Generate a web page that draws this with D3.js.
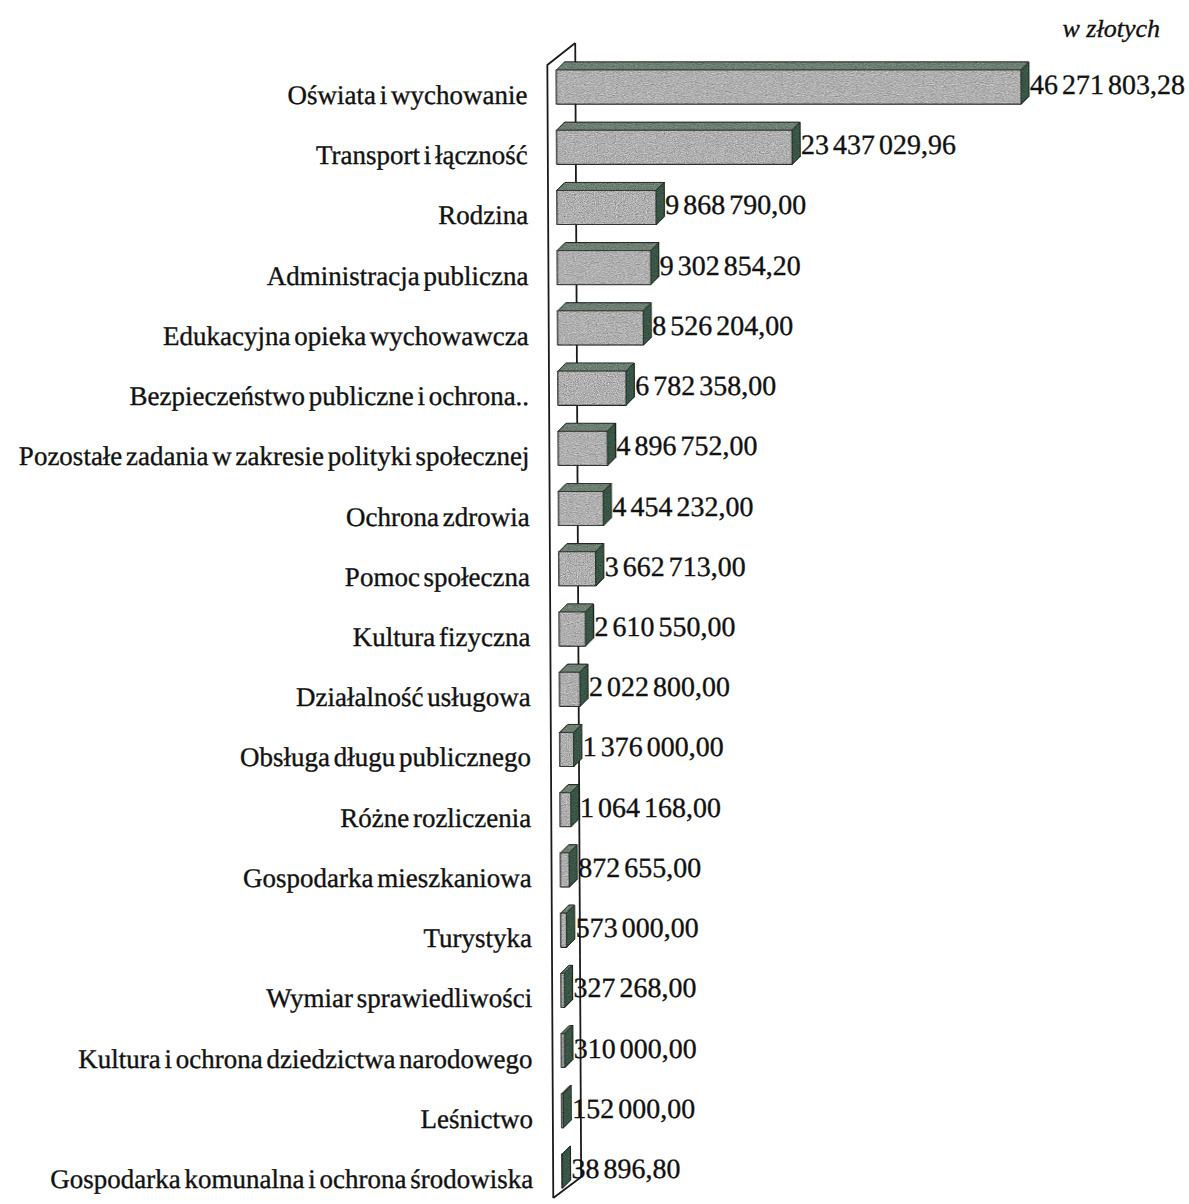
<!DOCTYPE html>
<html>
<head>
<meta charset="utf-8">
<script src="https://cdn.jsdelivr.net/npm/d3@7/dist/d3.min.js"></script>
<style>
  html, body { margin: 0; padding: 0; background: #fff; }
  svg { display: block; }
  text { font-family: "Liberation Serif", "Times New Roman", serif; fill: #111; stroke: #111; stroke-width: 0.35px; }
</style>
</head>
<body>
<svg id="chart" width="1189" height="1204"></svg>
<script>
const categories = [
  "Oświata i wychowanie",
  "Transport i łączność",
  "Rodzina",
  "Administracja publiczna",
  "Edukacyjna opieka wychowawcza",
  "Bezpieczeństwo publiczne i ochrona..",
  "Pozostałe zadania w zakresie polityki społecznej",
  "Ochrona zdrowia",
  "Pomoc społeczna",
  "Kultura fizyczna",
  "Działalność usługowa",
  "Obsługa długu publicznego",
  "Różne rozliczenia",
  "Gospodarka mieszkaniowa",
  "Turystyka",
  "Wymiar sprawiedliwości",
  "Kultura i ochrona dziedzictwa narodowego",
  "Leśnictwo",
  "Gospodarka komunalna i ochrona środowiska"
];
const values = [
  46271803.28, 23437029.96, 9868790.00, 9302854.20, 8526204.00,
  6782358.00, 4896752.00, 4454232.00, 3662713.00, 2610550.00,
  2022800.00, 1376000.00, 1064168.00, 872655.00, 573000.00,
  327268.00, 310000.00, 152000.00, 38896.80
];
const unitLabel = "w złotych";

const data = categories.map((c, i) => ({ cat: c, val: values[i] }));

const plLocale = d3.formatLocale({ decimal: ",", thousands: " ", grouping: [3], currency: ["", " zł"] });
const fmt = plLocale.format(",.2f");

const svg = d3.select("#chart");

// texture filter
const defs = svg.append("defs");
const f = defs.append("filter").attr("id", "grain")
  .attr("color-interpolation-filters", "sRGB")
  .attr("x", "-5%").attr("y", "-5%").attr("width", "110%").attr("height", "110%");
f.append("feTurbulence").attr("type", "fractalNoise").attr("baseFrequency", 0.9)
  .attr("numOctaves", 2).attr("seed", 7).attr("result", "n");
f.append("feColorMatrix").attr("in", "n").attr("type", "matrix")
  .attr("values", "0.33 0.33 0.33 0 0  0.33 0.33 0.33 0 0  0.33 0.33 0.33 0 0  0 0 0 0 1")
  .attr("result", "g");
f.append("feComposite").attr("in", "g").attr("in2", "SourceGraphic")
  .attr("operator", "arithmetic").attr("k1", 1.4).attr("k2", 0).attr("k3", 0.3).attr("k4", 0);

// whole chart slightly skewed like the scanned original
const g = svg.append("g").attr("transform", "skewX(0.3)");

const x = d3.scaleLinear().domain([0, 50000000]).range([556, 556 + 502]);
const y = d3.scalePoint().domain(categories).range([87, 1171]);

const barH = 34, dx = 8, dy = 8;

// side wall (axis plane)
const x0 = x(0);
const wallFront = x0 - 9, wallBack = x0 + 19;
const wallTopF = 65, wallTopB = 43, wallBotF = 1198, wallBotB = 1177;
const wall = g.append("g").attr("class", "wall")
  .attr("fill", "none").attr("stroke", "#1a1a1a").attr("stroke-width", 1.8);
wall.append("line").attr("x1", wallBack).attr("y1", wallTopB).attr("x2", wallBack).attr("y2", wallBotB);
wall.append("path").attr("d",
  `M${wallFront},${wallBotF} L${wallFront},${wallTopF} L${wallBack},${wallTopB}`);
wall.append("line").attr("x1", wallFront).attr("y1", wallBotF).attr("x2", wallBack).attr("y2", wallBotB);

// bars
const bars = g.append("g").attr("class", "bars").selectAll("g.bar").data(data).join("g")
  .attr("class", "bar").attr("filter", "url(#grain)");

bars.each(function(d) {
  const s = d3.select(this);
  const xa = x(0), xb = x(d.val);
  const yt = y(d.cat) - barH / 2, yb = y(d.cat) + barH / 2;
  // top face
  s.append("path")
    .attr("d", `M${xa},${yt} L${xa + dx},${yt - dy} L${xb + dx},${yt - dy} L${xb},${yt} Z`)
    .attr("fill", "#6e8072").attr("stroke", "#2a332d").attr("stroke-width", 0.8);
  // front face
  s.append("rect")
    .attr("x", xa).attr("y", yt).attr("width", Math.max(0.5, xb - xa)).attr("height", barH)
    .attr("fill", "#b0b0b0").attr("stroke", "#333").attr("stroke-width", 0.9);
  // right face
  s.append("path")
    .attr("d", `M${xb},${yt} L${xb + dx},${yt - dy} L${xb + dx},${yb - dy} L${xb},${yb} Z`)
    .attr("fill", "#3a5646").attr("stroke", "#1f2d24").attr("stroke-width", 0.8);
});

// value labels
g.append("g").attr("class", "values").selectAll("text").data(data).join("text")
  .attr("x", d => x(d.val) + dx + 1)
  .attr("y", d => y(d.cat) + 7)
  .attr("font-size", 28)
  .attr("word-spacing", -3)
  .text(d => fmt(d.val));

// category labels
g.append("g").attr("class", "cats").selectAll("text").data(data).join("text")
  .attr("x", 527)
  .attr("y", d => y(d.cat) + 17)
  .attr("text-anchor", "end")
  .attr("font-size", 27)
  .attr("word-spacing", -3)
  .text(d => d.cat);

// unit label
svg.append("text")
  .attr("x", 1160).attr("y", 37)
  .attr("text-anchor", "end")
  .attr("font-size", 26)
  .attr("font-style", "italic")
  .text(unitLabel);
</script>
</body>
</html>
